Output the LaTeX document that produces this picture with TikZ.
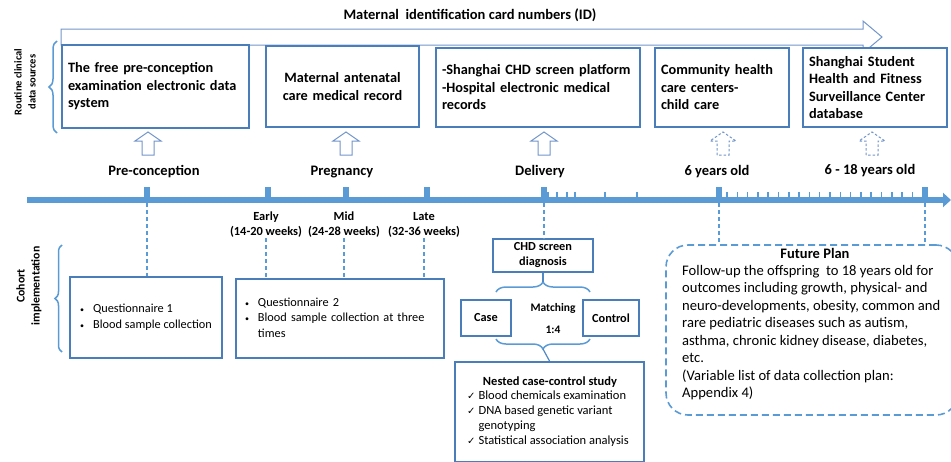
\documentclass[tikz,border=0pt]{standalone}
\usepackage{fontspec}
\setmainfont{Carlito}
\newfontfamily\symfont{DejaVu Sans}
\usetikzlibrary{arrows.meta,decorations.pathreplacing}
\definecolor{boxblue}{RGB}{74,126,187}
\definecolor{lineblue}{RGB}{91,155,213}
\definecolor{arrblue}{RGB}{115,150,202}
\newcommand\hollowup[2]{\draw[hollowarr,#2] ({#1-6},155) -- ({#1-6},141) -- ({#1-13},141) -- (#1,132) -- ({#1+13},141) -- ({#1+6},141) -- ({#1+6},155) -- cycle;}
\newcommand\smallbul{{\fontsize{8}{10}\selectfont\textbullet}}
\newcommand\chk{{\symfont\fontsize{10}{10}\selectfont ✓}}
\begin{document}
\begin{tikzpicture}[x=1pt,y=-1pt,
  topbox/.style={draw=boxblue, line width=1.6pt, fill=white, inner xsep=6pt, inner ysep=0pt, font=\bfseries\fontsize{14.3}{17.5}\selectfont, align=left},
  smallbox/.style={draw=boxblue, line width=1.5pt, fill=white, inner sep=0pt, font=\bfseries\fontsize{12.3}{15}\selectfont, align=center},
  qbox/.style={draw=boxblue, line width=1.5pt, fill=white, inner sep=0pt, font=\fontsize{12.3}{15.5}\selectfont},
  dashline/.style={lineblue, line width=1.5pt, dash pattern=on 4pt off 3pt},
  hollowarr/.style={draw=arrblue, line width=1pt, fill=white},
  lbl/.style={font=\bfseries\fontsize{14.5}{16}\selectfont},
  wk/.style={font=\bfseries\fontsize{12.4}{15}\selectfont, align=center, inner sep=1pt},
  majortick/.style={fill=lineblue, minimum width=6pt, minimum height=16pt, inner sep=0pt},
  brc/.style={lineblue, line width=1.5pt, decorate, decoration={brace, amplitude=#1}},
  sidelbl/.style={rotate=90, align=center}
]
\useasboundingbox (0,0) rectangle (951,461);
\clip (0,0) rectangle (951,461);

% title and ID arrow
\node[lbl] (title) at (470,15) {Maternal\ \ identification card numbers (ID)};
\draw[draw=arrblue, line width=1pt, fill=white] (61,29) -- (863,29) -- (863,21) -- (882,37) -- (863,53) -- (863,45) -- (61,45) -- cycle;

% routine clinical data sources
\node[topbox, text width=175pt, minimum height=83pt] (src1) at (155.5,86.5) {The free pre-conception\\examination electronic data\\system};
\node[topbox, text width=141pt, minimum height=81pt, align=center] (src2) at (342.5,86.5) {Maternal antenatal\\care medical record};
\node[topbox, text width=192pt, minimum height=79pt] (src3) at (538,87.5) {-Shanghai CHD screen platform\\-Hospital electronic medical\\records};
\node[topbox, text width=122pt, minimum height=79pt] (src4) at (722,87.5) {Community health\\care centers-\\child care};
\node[topbox, text width=132pt, minimum height=79pt] (src5) at (875,87.5) {Shanghai Student\\Health and Fitness\\Surveillance Center\\database};

% side labels and brackets
\node[sidelbl, font=\bfseries\fontsize{10.5}{14}\selectfont] (routine) at (25,82) {Routine clinical\\data sources};
\draw[brc=8pt] (57,133) -- (57,41);
\node[sidelbl, font=\bfseries\fontsize{11.8}{15}\selectfont] (cohort) at (29,286) {Cohort\\implementation};
\draw[brc=7pt] (62,352) -- (62,245);

% hollow arrows
\hollowup{148}{}
\hollowup{346}{}
\hollowup{544}{}
\hollowup{723}{dash pattern=on 2.5pt off 2pt}
\hollowup{872}{dash pattern=on 2.5pt off 2pt}

% stage labels
\node[lbl] (pre) at (154,172) {Pre-conception};
\node[lbl] (preg) at (342,172) {Pregnancy};
\node[lbl] (deliv) at (540,172) {Delivery};
\node[lbl] (six) at (717,172) {6 years old};
\node[lbl] (teen) at (870,171) {6 - 18 years old};

% timeline
\draw[lineblue, line width=6pt, -{Triangle[length=8pt,width=14pt]}] (27,200) -- (951,200);
\foreach \x in {548,557,567,575,605,637} \draw[lineblue, line width=1.5pt] (\x,192) -- (\x,200);
\foreach \i in {0,...,18} \draw[lineblue, line width=1.5pt] ({727+\i*10.3},192) -- ({727+\i*10.3},200);
\node[majortick] (t1) at (147,195) {};
\node[majortick] (t2) at (268,195) {};
\node[majortick] (t3) at (346,195) {};
\node[majortick] (t4) at (427,195) {};
\node[majortick] (t5) at (544,195) {};
\node[majortick] (t6) at (719,195) {};
\node[majortick] (t7) at (925,195) {};

% pregnancy periods
\node[wk] (early) at (266,224.5) {Early\\(14-20 weeks)};
\node[wk] (mid) at (344,224.5) {Mid\\(24-28 weeks)};
\node[wk] (late) at (424,224.5) {Late\\(32-36 weeks)};

% cohort boxes
\node[qbox, minimum width=152pt, minimum height=81pt] (q1) at (146,317.5)
  {\begin{tabular}{@{}l@{\hspace{9pt}}l@{}}\smallbul & Questionnaire 1\\ \smallbul & Blood sample collection\end{tabular}};
\node[qbox, minimum width=208pt, minimum height=79pt, inner xsep=9pt, text width=190pt, align=left] (q2) at (340,318.5)
  {\begin{tabular}{@{}l@{\hspace{9pt}}p{174pt}@{}}\smallbul & Questionnaire 2\\ \smallbul & Blood sample collection at three times\end{tabular}};

% case-control branch
\node[smallbox, minimum width=100pt, minimum height=33pt] (chd) at (543,255.5) {CHD screen\\diagnosis};
\coordinate (btop) at (543,282);
\draw[brc=10pt] (496,292) -- (590,292);
\node[smallbox, minimum width=50pt, minimum height=36pt] (case) at (486,318) {Case};
\node[smallbox, minimum width=56pt, minimum height=36pt] (control) at (611,318) {Control};
\node[font=\bfseries\fontsize{11.5}{15}\selectfont] (match) at (553,308) {Matching};
\node[font=\bfseries\fontsize{11.5}{15}\selectfont] (ratio) at (553,330) {1:4};
\coordinate (bbot) at (543,349);
\draw[brc=10pt] (590,339) -- (496,339);
\node[smallbox, minimum width=189pt, minimum height=100pt, anchor=north] (nested) at (549.5,361) {};
\node[font=\bfseries\fontsize{12.5}{15}\selectfont] (ncc) at (550,382) {Nested case-control study};
\node[anchor=north west, inner sep=0pt, font=\fontsize{12.5}{15}\selectfont] (nitems) at (467,389)
  {\begin{tabular}{@{}l@{\hspace{3pt}}l@{}}\chk & Blood chemicals examination\\ \chk & DNA based genetic variant\\ & genotyping\\ \chk & Statistical association analysis\end{tabular}};

% future plan
\node[draw=lineblue, line width=1.6pt, dash pattern=on 7pt off 4pt, rounded corners=22pt, minimum width=292pt, minimum height=170pt, inner sep=0pt] (future) at (812,330) {};
\node[font=\bfseries\fontsize{14.5}{16}\selectfont] (fptitle) at (815,253) {Future Plan};
\node[anchor=north west, inner sep=0pt, align=left, font=\fontsize{14.6}{17.5}\selectfont] (fpbody) at (682,265)
  {Follow-up the offspring\ \ to 18 years old for\\outcomes including growth, physical- and\\neuro-developments, obesity, common and\\rare pediatric diseases such as autism,\\asthma, chronic kidney disease, diabetes,\\etc.\\(Variable list of data collection plan:\\Appendix 4)};

% connectors
\draw[dashline] (t1.south) -- (t1.south |- q1.north);
\draw[dashline] (early.south) -- (early.south |- q2.north);
\draw[dashline] (mid.south) -- (mid.south |- q2.north);
\draw[dashline] (late.south) -- (late.south |- q2.north);
\draw[dashline] (t5.south) -- (t5.south |- chd.north);
\draw[dashline] (t6.south) -- (t6.south |- future.north);
\draw[dashline] (t7.south) -- (t7.south |- future.north);
\draw[boxblue!70!lineblue, line width=1.2pt] (chd.south) -- (btop);
\draw[boxblue!70!lineblue, line width=1.2pt] (bbot) -- (nested.north);
\end{tikzpicture}
\end{document}
